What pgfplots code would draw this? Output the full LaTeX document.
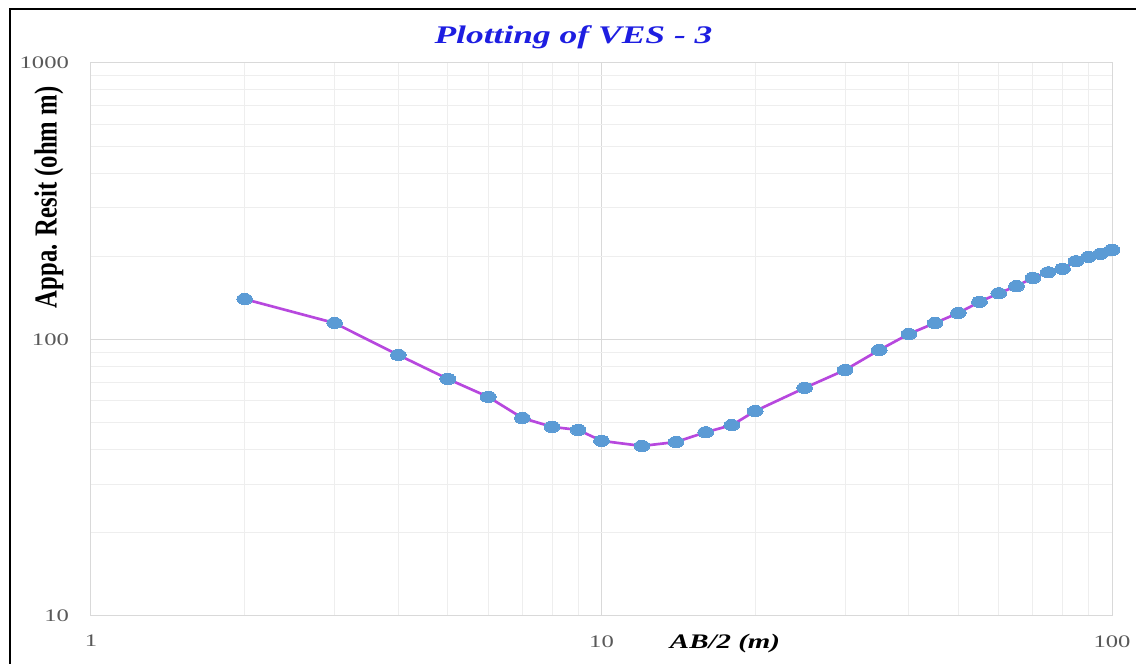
\documentclass[border=0pt]{standalone}
\usepackage{fontspec}
\setmainfont{Liberation Serif}
\usepackage{graphicx}
\usepackage{pgfplots}
\pgfplotsset{compat=1.18}

\definecolor{markblue}{RGB}{91,155,213}
\definecolor{linepurple}{RGB}{183,72,222}
\definecolor{gridmaj}{RGB}{217,217,217}
\definecolor{gridmin}{RGB}{238,238,238}
\definecolor{tickgray}{RGB}{89,89,89}
\definecolor{titleblue}{RGB}{30,30,225}

% the reference is stretched sideways, so horizontal text is too
\newcommand{\hs}[1]{\scalebox{1.4}[1]{#1}}

\begin{document}
\begin{tikzpicture}
\useasboundingbox (0,0) rectangle (852pt,498pt);
\draw[line width=1.5pt] (7.5pt,0) -- (7.5pt,491.25pt) -- (852pt,491.25pt);

\node[font=\fontsize{19}{22}\selectfont\bfseries\itshape, text=titleblue]
  at (430.1pt,470.25pt) {\hs{Plotting of VES - 3}};

\begin{axis}[
  at={(68.25pt,36pt)}, anchor=south west,
  scale only axis, width=765.75pt, height=414.75pt,
  xmode=log, ymode=log,
  xmin=1, xmax=100, ymin=10, ymax=1000,
  xtick={1,10,100}, xticklabels={\hs{1},\hs{10},\hs{100}},
  ytick={10,100,1000}, yticklabels={\hs{10},\hs{100},\hs{1000}},
  grid=both,
  major grid style={draw=gridmaj, line width=0.75pt},
  minor grid style={draw=gridmin, line width=0.75pt},
  axis line style={draw=gridmaj, line width=0.75pt},
  major tick length=0pt, minor tick length=0pt,
  tick label style={font=\fontsize{13.2}{15}\selectfont, text=tickgray},
  xticklabel shift=11pt, yticklabel shift=13pt,
  xlabel={\hs{\textbf{\textit{AB/2 (m)}}}},
  xlabel style={at={(axis description cs:0.621,0)}, anchor=north, yshift=-10pt,
    font=\fontsize{15.5}{18}\selectfont},
  ylabel={\scalebox{1}[1.3]{\textbf{Appa. Resit (ohm m)}}},
  ylabel style={at={(axis description cs:-0.0411,0.757)}, anchor=center,
    font=\fontsize{18.5}{21}\selectfont},
]
\addplot[color=linepurple, line width=2pt, mark=*, mark size=4.2pt,
  mark options={fill=markblue, draw=markblue, line width=0pt, xscale=1.4}]
  table {
x y
2 140
3 114.7
4 87.9
5 72
6 62
7 52
8 48.3
9 47.1
10 43
12 41.2
14 42.6
16 46.2
18 49
20 55.1
25 66.8
30 77.6
35 91.6
40 104.7
45 114.7
50 124.7
55 136.7
60 147
65 156
70 167
75 175
80 180
85 192
90 199
95 204
100 211
};
\end{axis}
\end{tikzpicture}
\end{document}
